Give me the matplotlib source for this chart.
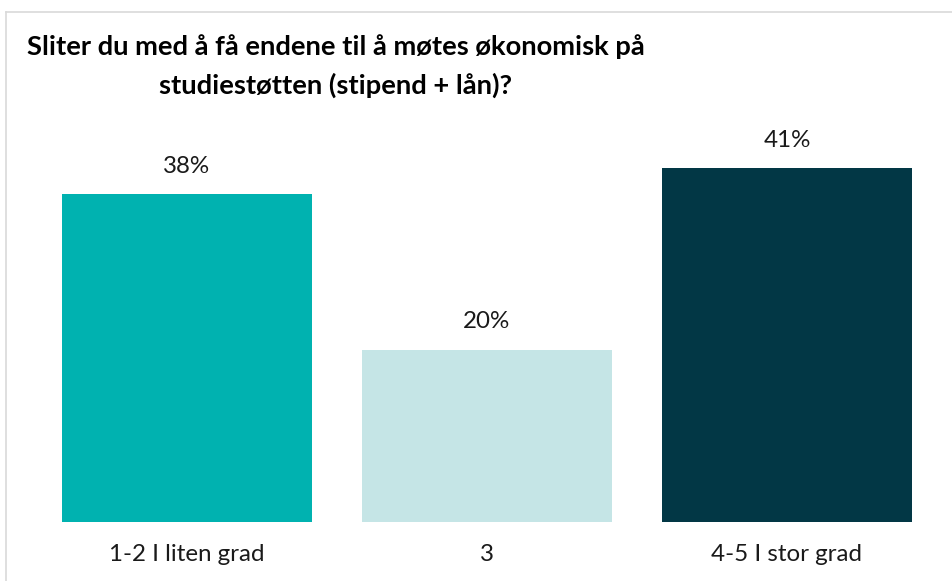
import matplotlib.pyplot as plt
from matplotlib.lines import Line2D

# data
kategorier = ['1-2 I liten grad', '3', '4-5 I stor grad']
andeler = [38, 20, 41]
farger = ['#00B2B0', '#C5E5E6', '#023745']
tittel = 'Sliter du med å få endene til å møtes økonomisk på\nstudiestøtten (stipend + lån)?'

plt.rcParams['font.family'] = ['Lato', 'DejaVu Sans']

fig = plt.figure(figsize=(9.53, 5.81), dpi=100)
ax = fig.add_axes([0.0383, 0.1015, 0.945, 0.668])

x = range(len(kategorier))
stolper = ax.bar(x, andeler, width=0.833, color=farger)

for s, v in zip(stolper, andeler):
    ax.annotate(f'{v}%', (s.get_x() + s.get_width() / 2, v),
                xytext=(0, 20), textcoords='offset points',
                ha='center', va='center', fontsize=17.4, color='#1a1a1a')

ax.set_xlim(-0.5, 2.5)
ax.set_ylim(0, 45)
ax.set_xticks(list(x))
ax.set_xticklabels(kategorier, fontsize=17.4, color='#1a1a1a')
ax.tick_params(axis='x', length=0, pad=16)
ax.set_yticks([])
for side in ax.spines.values():
    side.set_visible(False)

fig.text(336 / 953, 1 - 66 / 581, tittel, ha='center', va='center',
         fontsize=19.7, fontweight='bold', linespacing=1.65)

# grå ramme (topp og venstre)
ramme = '#D9D9D9'
fig.add_artist(Line2D([6 / 953, 1], [1 - 12 / 581] * 2, color=ramme, lw=1.2))
fig.add_artist(Line2D([6 / 953] * 2, [0, 1 - 12 / 581], color=ramme, lw=1.2))

fig.savefig('out.png', dpi=100)
